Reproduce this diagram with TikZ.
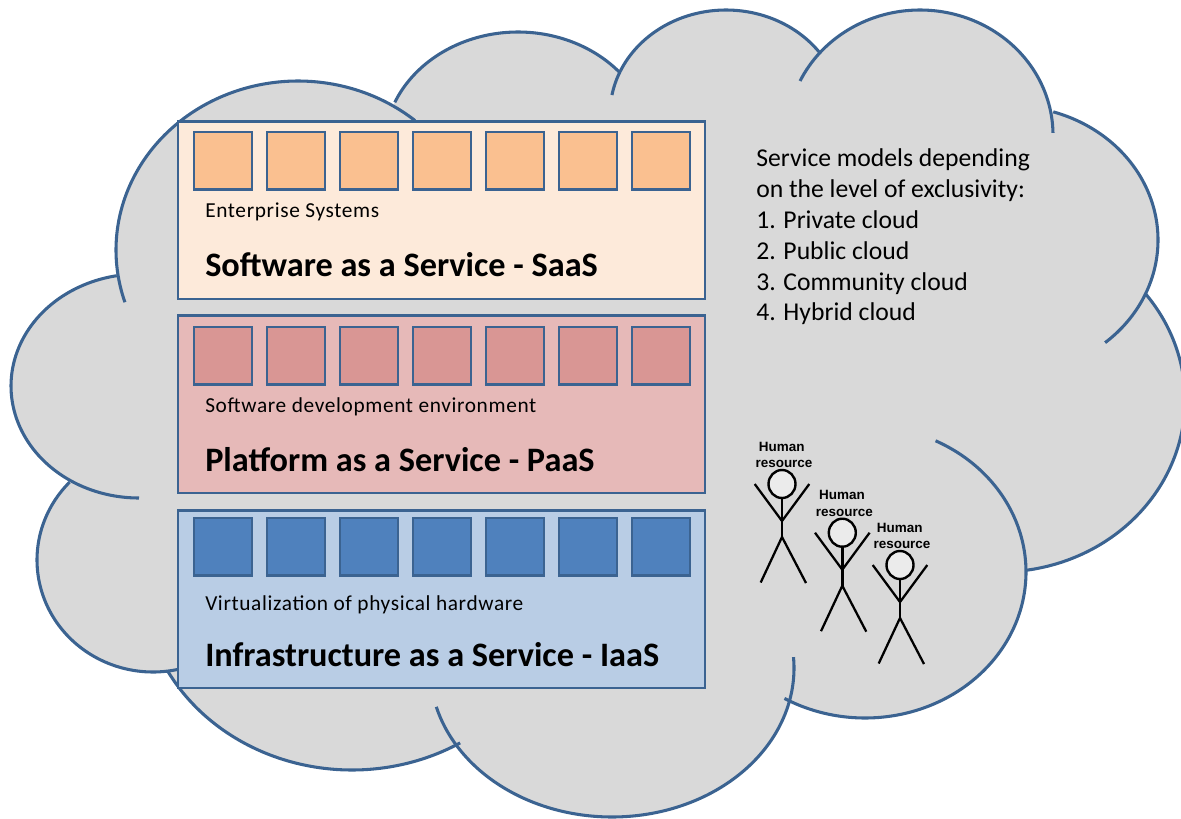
\documentclass[tikz,border=0pt]{standalone}
\usepackage{fontspec}
\setmainfont{Carlito}
\newfontfamily\arialfont{Liberation Sans}
\newfontfamily\spacedfont[LetterSpace=3.0]{Carlito}
\definecolor{cloudfill}{HTML}{D9D9D9}
\definecolor{edgeblue}{HTML}{3B6391}
\definecolor{saasbg}{HTML}{FDEADA}
\definecolor{saassq}{HTML}{FAC090}
\definecolor{paasbg}{HTML}{E6B9B8}
\definecolor{paassq}{HTML}{D99694}
\definecolor{iaasbg}{HTML}{B9CDE5}
\definecolor{iaassq}{HTML}{4F81BD}
\tikzset{
  lobeline/.style={draw=edgeblue,line width=2.3pt},
  layerbox/.style={draw=edgeblue,line width=2.2pt},
  tilebox/.style={draw=edgeblue,line width=2.2pt},
  subtext/.style={anchor=base west,inner sep=0pt,font=\spacedfont\fontsize{16pt}{19pt}\selectfont},
  titletext/.style={anchor=base west,inner sep=0pt,font=\fontsize{25.7pt}{30pt}\selectfont\bfseries},
  listtext/.style={anchor=base west,inner sep=0pt,font=\fontsize{19.25pt}{23pt}\selectfont},
  hrtext/.style={anchor=base,inner sep=0pt,font=\arialfont\fontsize{10.1pt}{12pt}\selectfont\bfseries},
  bodyline/.style={draw=black,line width=2.2pt},
  limbline/.style={draw=black,line width=1.7pt},
}
\newcommand{\lobefill}[4]{\fill[cloudfill] (#1,#2) ellipse [x radius=#3,y radius=#4];}
\newcommand{\lobe}[6]{\draw[lobeline] plot[domain=#5:#6,samples=80,variable=\t,smooth] ({#1+#3*cos(\t)},{#2+#4*sin(\t)});}
\begin{document}
\begin{tikzpicture}[x=0.75pt,y=-0.75pt]
\useasboundingbox (0,0) rectangle (1181,818);
\clip (0,0) rectangle (1181,818);
% cloud fill
\fill[cloudfill] (300,200)--(520,100)--(726,100)--(920,100)--(1050,130)--(1100,300)--(1020,560)--(800,690)--(450,730)--(180,660)--(70,480)--(120,280)--cycle;
\lobefill{298}{250}{182}{169}
\lobefill{518}{148}{134}{116}
\lobefill{726}{114}{116}{104}
\lobefill{920}{135}{133}{125}
\lobefill{1010}{240}{148}{134}
\lobefill{1000}{400}{185}{172}
\lobefill{865}{572}{161}{146}
\lobefill{612}{668}{182}{149}
\lobefill{352}{580}{210}{190}
\lobefill{153}{560}{116}{112}
\lobefill{139}{386}{128}{112}
% cloud outline
\lobe{298}{250}{182}{169}{162}{310}
\lobe{518}{148}{134}{116}{203.2}{319.3}
\lobe{726}{114}{116}{104}{190.5}{324}
\lobe{920}{135}{133}{125}{205.6}{359}
\lobe{1010}{240}{148}{134}{-73}{50}
\lobe{1000}{400}{185}{172}{-37.9}{82}
\lobe{865}{572}{161}{146}{-64}{120}
\lobe{612}{668}{182}{149}{-4.2}{164.9}
\lobe{352}{580}{210}{190}{59}{151.4}
\lobe{153}{560}{116}{112}{77.4}{224}
\lobe{139}{386}{128}{112}{90}{260}
% layers
\foreach \nm/\top/\bot/\sqtop/\bg/\sq in {saas/121.5/299/132/saasbg/saassq,paas/315.5/493/327/paasbg/paassq,iaas/510.5/688/518/iaasbg/iaassq}{
  \path[layerbox,fill=\bg] (178,\top) rectangle (705,\bot);
  \foreach \i in {0,...,6}{
    \path[tilebox,fill=\sq] ({194+73*\i},\sqtop) rectangle ({252+73*\i},{\sqtop+57.5});
  }
}
\node[subtext] (saassub) at (205,217) {Enterprise Systems};
\node[titletext] (saastitle) at (205,276) {Software as a Service - SaaS};
\node[subtext] (paassub) at (205,412) {Software development environment};
\node[titletext] (paastitle) at (205,471) {Platform as a Service - PaaS};
\node[subtext] (iaassub) at (205,610) {Virtualization of physical hardware};
\node[titletext] (iaastitle) at (205,666) {Infrastructure as a Service - IaaS};
% list
\node[listtext] (l1) at (756,166) {Service models depending};
\node[listtext] (l2) at (756,197) {on the level of exclusivity:};
\node[listtext] (l3) at (756,228) {1. Private cloud};
\node[listtext] (l4) at (756,259) {2. Public cloud};
\node[listtext] (l5) at (756,290) {3. Community cloud};
\node[listtext] (l6) at (756,320) {4. Hybrid cloud};
% people
\foreach \dx/\dy in {0/0,60.3/48.7,118/81}{
\begin{scope}[shift={(\dx,\dy)}]
  \draw[bodyline] (782,498)--(782,537);
  \draw[limbline] (754.7,484)--(782,521)--(809.3,484);
  \draw[limbline] (760.7,582.5)--(782,537)--(806,583);
  \draw[limbline,line width=1.8pt,fill=black!8] (782,484) ellipse [x radius=13.5,y radius=14];
  \node[hrtext] at (781.7,451) {Human};
  \node[hrtext] at (784,467.5) {resource};
\end{scope}}
\end{tikzpicture}
\end{document}
